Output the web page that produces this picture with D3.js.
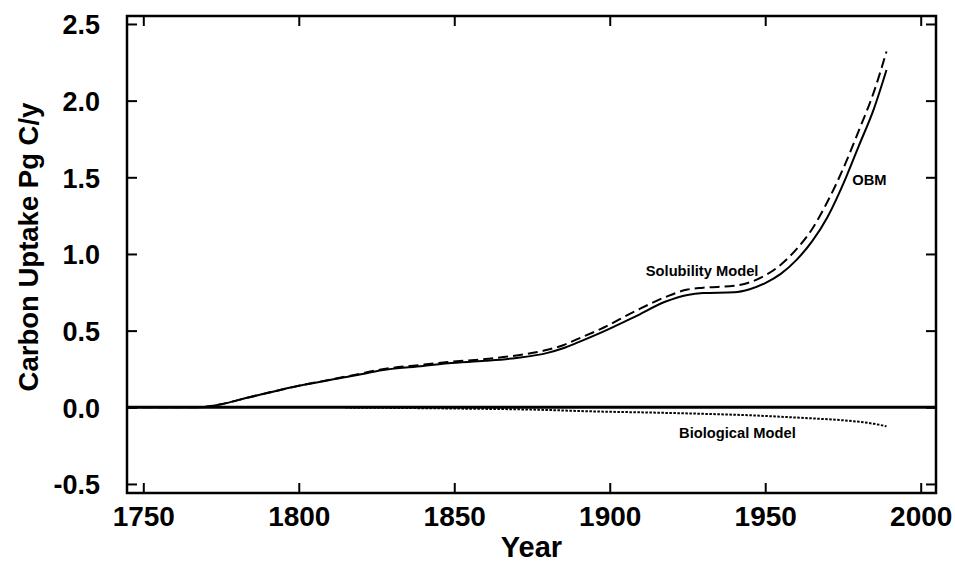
<!DOCTYPE html>
<html>
<head>
<meta charset="utf-8">
<script src="https://cdn.jsdelivr.net/npm/d3@7"></script>
<style>
  body { margin: 0; background: #fff; }
  text { font-family: "Liberation Sans", Arial, Helvetica, sans-serif; font-weight: bold; fill: #000; }
  .frame { fill: none; stroke: #000; stroke-width: 2.5; }
  .tick line { stroke: #000; stroke-width: 2; }
  .line { fill: none; stroke: #000; stroke-width: 2; }
</style>
</head>
<body>
<script>
"use strict";

// data: year, carbon uptake (Pg C/y)
var obmYears = [1745, 1768, 1775, 1783, 1794, 1800, 1810, 1820, 1826, 1840, 1848, 1860, 1870, 1880, 1885, 1890, 1897,
                1908, 1918, 1925, 1930, 1940, 1945, 1950, 1955, 1960, 1965, 1970, 1976, 1980, 1985, 1989];
var obmValues = [0, 0, 0.02, 0.06, 0.113, 0.14, 0.178, 0.215, 0.24, 0.27, 0.287, 0.303, 0.322, 0.355, 0.385, 0.425, 0.485,
                 0.59, 0.69, 0.733, 0.745, 0.75, 0.77, 0.81, 0.87, 0.96, 1.08, 1.24, 1.5, 1.7, 1.95, 2.2];

var solYears = [1745, 1768, 1775, 1783, 1794, 1800, 1810, 1820, 1826, 1840, 1848, 1860, 1870, 1880, 1885, 1890, 1897,
                1908, 1918, 1925, 1930, 1940, 1945, 1950, 1955, 1960, 1965, 1970, 1976, 1980, 1985, 1989];
var solValues = [0, 0, 0.02, 0.06, 0.113, 0.14, 0.18, 0.22, 0.245, 0.278, 0.295, 0.315, 0.338, 0.375, 0.405, 0.448, 0.51,
                 0.625, 0.72, 0.768, 0.78, 0.792, 0.815, 0.86, 0.93, 1.03, 1.16, 1.34, 1.6, 1.8, 2.06, 2.32];

var bioYears = [1815, 1830, 1850, 1875, 1897, 1910, 1929, 1945, 1961, 1970, 1977, 1985, 1989];
var bioValues = [-0.002, -0.004, -0.008, -0.015, -0.028, -0.033, -0.042, -0.052, -0.068, -0.078, -0.088, -0.108, -0.124];

var xTicks = [1750, 1800, 1850, 1900, 1950, 2000];
var yTicks = [-0.5, 0.0, 0.5, 1.0, 1.5, 2.0, 2.5];

var labels = [
  {text: "Solubility Model", year: 1911.6, value: 0.855},
  {text: "OBM", year: 1978.0, value: 1.45},
  {text: "Biological Model", year: 1922.3, value: -0.20}
];

function zip(xs, ys){
  return xs.map(function(x, i){ return {year: x, value: ys[i]}; });
}
var series = [
  {name: "obm", points: zip(obmYears, obmValues), dash: null, width: 2},
  {name: "sol", points: zip(solYears, solValues), dash: "10,5", width: 2},
  {name: "bio", points: zip(bioYears, bioValues), dash: "2.5,1.5", width: 2.6}
];

// dimensions
var width = 955, height = 565;
var plot = {left: 127, right: 936, top: 16, bottom: 493};

var xScale = d3.scaleLinear()
    .domain([1744.76, 2004.92])
    .range([plot.left, plot.right]);
var yScale = d3.scaleLinear()
    .domain([-0.559, 2.552])
    .range([plot.bottom, plot.top]);

var svg = d3.select("body").append("svg")
    .attr("width", width)
    .attr("height", height);

// axes, ticks pointing inward on all four sides
var fmt = function(d){ return d.toFixed(1); };

var gXBottom = svg.append("g")
    .attr("transform", "translate(0," + plot.bottom + ")")
    .call(d3.axisBottom(xScale).tickValues(xTicks).tickSizeInner(-10).tickSizeOuter(0).tickFormat(d3.format("d")));
var gXTop = svg.append("g")
    .attr("transform", "translate(0," + plot.top + ")")
    .call(d3.axisTop(xScale).tickValues(xTicks).tickSizeInner(-10).tickSizeOuter(0).tickFormat(""));
var gYLeft = svg.append("g")
    .attr("transform", "translate(" + plot.left + ",0)")
    .call(d3.axisLeft(yScale).tickValues(yTicks).tickSizeInner(-10).tickSizeOuter(0).tickPadding(27).tickFormat(fmt));
var gYRight = svg.append("g")
    .attr("transform", "translate(" + plot.right + ",0)")
    .call(d3.axisRight(yScale).tickValues(yTicks).tickSizeInner(-10).tickSizeOuter(0).tickFormat(""));

svg.selectAll(".domain").remove();
gXBottom.selectAll("text").style("font-size", "28px").attr("dy", 0).attr("y", 33);
gYLeft.selectAll("text").style("font-size", "27px").attr("dy", "0.36em");

// frame
svg.append("rect")
    .attr("class", "frame")
    .attr("x", plot.left)
    .attr("y", plot.top)
    .attr("width", plot.right - plot.left)
    .attr("height", plot.bottom - plot.top);

// zero line
svg.append("line")
    .attr("x1", plot.left).attr("x2", plot.right)
    .attr("y1", yScale(0)).attr("y2", yScale(0))
    .attr("stroke", "#000")
    .attr("stroke-width", 3);

// the model curves
var line = d3.line()
    .curve(d3.curveMonotoneX)
    .x(function(d) { return xScale(d.year); })
    .y(function(d) { return yScale(d.value); });

svg.selectAll(".line").data(series)
  .enter().append("path")
    .attr("class", "line")
    .attr("stroke-width", function(d){ return d.width; })
    .attr("stroke-dasharray", function(d){ return d.dash; })
    .attr("d", function(d){ return line(d.points); });

// curve labels
svg.selectAll(".label").data(labels)
  .enter().append("text")
    .attr("class", "label")
    .attr("x", function(d){ return xScale(d.year); })
    .attr("y", function(d){ return yScale(d.value); })
    .style("font-size", "14.7px")
    .text(function(d){ return d.text; });

// axis titles
svg.append("text")
    .attr("x", (plot.left + plot.right) / 2)
    .attr("y", 557)
    .attr("text-anchor", "middle")
    .style("font-size", "29px")
    .text("Year");

svg.append("text")
    .attr("transform", "translate(38," + 247 + ") rotate(-90)")
    .attr("text-anchor", "middle")
    .style("font-size", "27.5px")
    .text("Carbon Uptake Pg C/y");
</script>
</body>
</html>
